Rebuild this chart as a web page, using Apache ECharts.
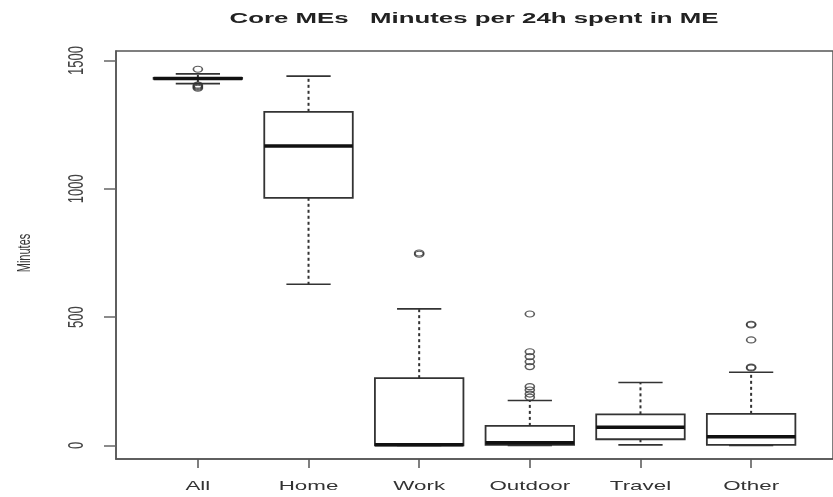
<!DOCTYPE html>
<html>
<head>
<meta charset="utf-8">
<script src="https://cdn.jsdelivr.net/npm/echarts@6/dist/echarts.min.js"></script>
<style>
  html, body { margin: 0; padding: 0; background: #fff; }
  #chart { width: 833px; height: 497px; }
</style>
</head>
<body>
<div id="chart"></div>
<script>
// Minutes per 24h spent in each core micro-environment (box summaries)
const categories = ['All', 'Home', 'Work', 'Outdoor', 'Travel', 'Other'];
const whiskerLow = [1410, 628, 0, 0, 2, 0];
const quartile1 = [1428, 965, 0, 2, 24, 2];
const medians = [1430, 1167, 3, 10, 71, 34];
const quartile3 = [1432, 1300, 262, 76, 121, 123];
const whiskerHigh = [1448, 1439, 532, 175, 245, 285];
const outliers = [
  [1466, 1400, 1396, 1392, 1404],
  [],
  [745, 750],
  [512, 365, 346, 326, 307, 229, 216, 200, 188],
  [],
  [469, 472, 411, 305, 302]
];
const yTicks = [0, 500, 1000, 1500];

const TITLE = 'Core MEs   Minutes per 24h spent in ME';
const Y_NAME = 'Minutes';

// axis ranges (R-style 4% padding around the data range)
const X_MIN = -0.74, X_MAX = 5.74;
const Y_MIN = -53, Y_MAX = 1537;
const STRETCH = 1.72;   // horizontal stretch of all lettering
const INK = '#333';

const boxRows = categories.map((c, i) =>
  [i, whiskerLow[i], quartile1[i], medians[i], quartile3[i], whiskerHigh[i]]);

const outlierPoints = [];
outliers.forEach((list, i) => list.forEach(v => outlierPoints.push([i, v])));

const chart = echarts.init(document.getElementById('chart'), null, { renderer: 'canvas' });

function renderBox(params, api) {
  const i = api.value(0);
  const lo = api.value(1), q1 = api.value(2), med = api.value(3),
        q3 = api.value(4), hi = api.value(5);
  const cx = api.coord([i, med])[0];
  const left = api.coord([i - 0.4, med])[0];
  const right = api.coord([i + 0.4, med])[0];
  const capL = api.coord([i - 0.2, med])[0];
  const capR = api.coord([i + 0.2, med])[0];
  const y = v => api.coord([i, v])[1];
  const yBottom = api.coord([i, Y_MIN])[1];
  return {
    type: 'group',
    children: [
      { type: 'line', shape: { x1: cx, y1: y(q3), x2: cx, y2: y(hi) },
        style: { stroke: INK, lineWidth: 2, lineDash: [3, 3] } },
      { type: 'line', shape: { x1: cx, y1: y(q1), x2: cx, y2: y(lo) },
        style: { stroke: INK, lineWidth: 2, lineDash: [3, 3] } },
      { type: 'line', shape: { x1: capL, y1: y(hi), x2: capR, y2: y(hi) },
        style: { stroke: INK, lineWidth: 1.6 } },
      { type: 'line', shape: { x1: capL, y1: y(lo), x2: capR, y2: y(lo) },
        style: { stroke: INK, lineWidth: 1.6 } },
      { type: 'rect', shape: { x: left, y: y(q3), width: right - left, height: y(q1) - y(q3) },
        style: { fill: '#fff', stroke: INK, lineWidth: 1.8 } },
      { type: 'line', shape: { x1: left, y1: y(med), x2: right, y2: y(med) },
        style: { stroke: '#111', lineWidth: 3.5 } },
      { type: 'text', x: cx, y: yBottom + 27, scaleX: STRETCH,
        style: { text: categories[params.dataIndex], fill: INK,
                 font: '13px "Liberation Sans", Arial, sans-serif',
                 align: 'center', verticalAlign: 'middle' } }
    ]
  };
}

function renderYLabel(params, api) {
  const p = api.coord([X_MIN, api.value(1)]);
  return {
    type: 'text', x: p[0] - 39, y: p[1], rotation: Math.PI / 2, scaleY: STRETCH,
    style: { text: String(api.value(1)), fill: '#444',
             font: '13px "Liberation Sans", Arial, sans-serif',
             align: 'center', verticalAlign: 'middle' }
  };
}

chart.setOption({
  animation: false,
  backgroundColor: '#fff',
  grid: {
    left: 116, right: -4, top: 51, bottom: 38,
    show: true, borderColor: '#555', borderWidth: 1.5, backgroundColor: 'transparent'
  },
  xAxis: {
    type: 'value', min: X_MIN, max: X_MAX,
    axisLine: { show: true, onZero: false, lineStyle: { color: '#555', width: 1.5 } },
    axisTick: { show: true, customValues: categories.map((c, i) => i), length: 9,
                lineStyle: { color: '#555', width: 1.5 } },
    axisLabel: { show: false },
    splitLine: { show: false }
  },
  yAxis: {
    type: 'value', min: Y_MIN, max: Y_MAX,
    axisLine: { show: true, onZero: false, lineStyle: { color: '#555', width: 1.5 } },
    axisTick: { show: true, customValues: yTicks, length: 12,
                lineStyle: { color: '#666', width: 1.5 } },
    axisLabel: { show: false },
    splitLine: { show: false }
  },
  graphic: [
    { type: 'text', x: 474, y: 19, scaleX: STRETCH,
      style: { text: TITLE, fill: '#222', font: 'bold 15px "Liberation Sans", Arial, sans-serif',
               align: 'center', verticalAlign: 'middle' } },
    { type: 'text', x: 25, y: 253, rotation: Math.PI / 2, scaleY: STRETCH,
      style: { text: Y_NAME, fill: '#333', font: '11px "Liberation Sans", Arial, sans-serif',
               align: 'center', verticalAlign: 'middle' } }
  ],
  series: [
    {
      type: 'custom', name: 'box', clip: false,
      renderItem: renderBox,
      encode: { x: 0, y: [1, 2, 3, 4, 5] },
      data: boxRows, z: 2
    },
    {
      type: 'scatter', name: 'outliers',
      data: outlierPoints,
      symbol: 'circle', symbolSize: [9, 6],
      itemStyle: { color: 'rgba(255,255,255,0)', borderColor: INK, borderWidth: 1.4 },
      z: 3
    },
    {
      type: 'custom', name: 'yLabels', clip: false,
      renderItem: renderYLabel,
      encode: { x: 0, y: 1 },
      data: yTicks.map(v => [X_MIN, v]), z: 2
    }
  ]
});
</script>
</body>
</html>
